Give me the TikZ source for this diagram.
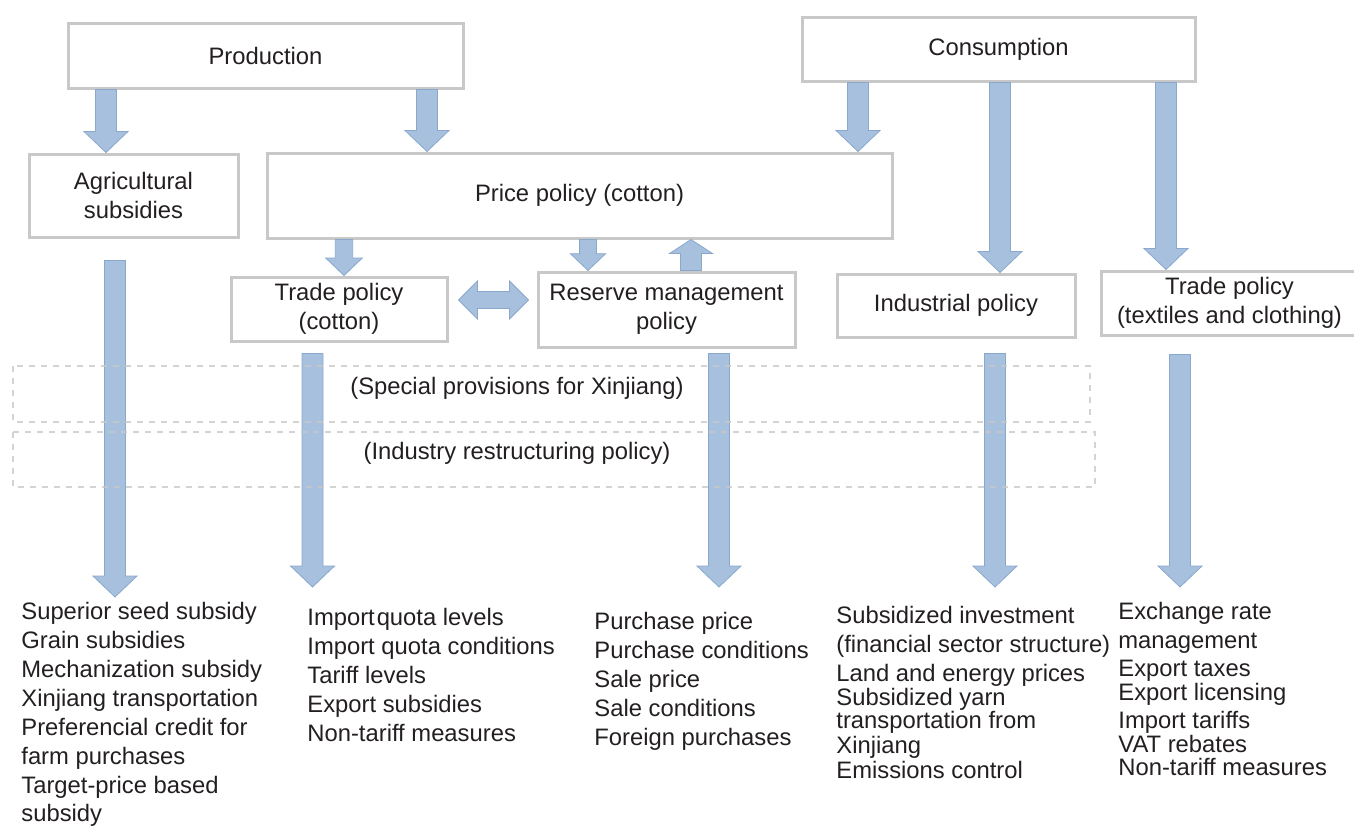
\documentclass[tikz,border=0pt]{standalone}
\usepackage{fontspec}
\setmainfont{Liberation Sans}
\usetikzlibrary{calc}

\definecolor{boxgray}{RGB}{200,200,200}
\definecolor{zonegray}{RGB}{200,200,200}
\definecolor{arrowblue}{RGB}{166,192,222}
\definecolor{arrowedge}{RGB}{138,168,205}
\definecolor{inktext}{RGB}{35,31,32}

\tikzset{
  box/.style={draw=boxgray,line width=1.5pt,fill=white,align=center,inner sep=2pt},
  zone/.style={draw=zonegray,line width=0.7pt,dash pattern=on 3pt off 3pt},
  fat/.style={fill=arrowblue,draw=arrowedge,line width=0.4pt},
  itemlist/.style={align=left,inner sep=0pt,anchor=north west},
}

% block arrow going down: #1 size factor, #2 start, #3 tip, #4 x (px)
\newcommand\blockdown[4][1]{%
  \draw[fat] let \p1=#2, \p2=#3, \p3=(#4,0) in
    (\x3-#1*5.25pt,\y1) -- (\x3-#1*5.25pt,\y2+#1*10.5pt) -- (\x3-#1*11pt,\y2+#1*10.5pt)
    -- (\x3,\y2) -- (\x3+#1*11pt,\y2+#1*10.5pt) -- (\x3+#1*5.25pt,\y2+#1*10.5pt)
    -- (\x3+#1*5.25pt,\y1) -- cycle;}
% block arrow going up
\newcommand\blockup[3]{%
  \draw[fat] let \p1=#1, \p2=#2, \p3=(#3,0) in
    (\x3-5.25pt,\y1) -- (\x3-5.25pt,\y2-7pt) -- (\x3-10.75pt,\y2-7pt)
    -- (\x3,\y2) -- (\x3+10.75pt,\y2-7pt) -- (\x3+5.25pt,\y2-7pt)
    -- (\x3+5.25pt,\y1) -- cycle;}

\begin{document}
\begin{tikzpicture}[x=0.5pt,y=-0.5pt,text=inktext,font=\fontsize{11.9}{14.45}\selectfont]
\useasboundingbox (0,0) rectangle (1354,825);

%top level
\node[box,minimum width=197.5pt,minimum height=32.5pt] (prod) at (265.5,55.5) {Production};
\node[box,minimum width=196.5pt,minimum height=32pt] (cons) at (998.5,49) {Consumption};

%second level
\node[box,minimum width=104.5pt,minimum height=41.5pt] (agri) at (133.5,195.5) {Agricultural\\subsidies};
\node[box,minimum width=312.5pt,minimum height=42.5pt] (price) at (579.5,195.5) {Price policy (cotton)};

%third level
\node[box,minimum width=108pt,minimum height=32pt] (tradec) at (339,309) {Trade policy\\(cotton)};
\node[box,minimum width=128.5pt,minimum height=37.5pt] (reserve) at (666.5,309.5) {Reserve management\\policy};
\node[box,minimum width=119pt,minimum height=31.5pt] (indus) at (956,305.5) {Industrial policy};
\node[box,minimum width=128.5pt,minimum height=32pt] (tradet) at (1229.5,303) {Trade policy\\(textiles and clothing)};

%instruments
\node[itemlist] (agrilist) at (21,602) {Superior seed subsidy\\Grain subsidies\\Mechanization subsidy\\Xinjiang transportation\\Preferencial credit for\\farm purchases\\Target-price based\\subsidy};
\node[itemlist] (tradeclist) at (307,608) {Import\hspace{0.08em}quota levels\\Import quota conditions\\Tariff levels\\Export subsidies\\Non-tariff measures};
\node[itemlist] (reservelist) at (594,612) {Purchase price\\Purchase conditions\\Sale price\\Sale conditions\\Foreign purchases};
\node[itemlist] (induslist) at (836,606) {Subsidized investment\\(financial sector structure)\\Land and energy prices\\[-2.45pt]Subsidized yarn\\[-2.95pt]transportation from\\[-1.95pt]Xinjiang\\[-1.95pt]Emissions control};
\node[itemlist] (tradetlist) at (1118,602) {Exchange rate\\management\\[-0.45pt]Export taxes\\[-2.45pt]Export licensing\\[-0.45pt]Import tariffs\\[-2.45pt]VAT rebates\\[-2.95pt]Non-tariff measures};

\coordinate (agritip) at (115,597);
\coordinate (tradectip) at (312.5,587);
\coordinate (reservetip) at (719,587);
\coordinate (industip) at (995,587);
\coordinate (tradettip) at (1180,587);

%arrows from the top
\blockdown{(prod.south)}{(agri.north)}{106}
\blockdown{(prod.south)}{(price.north)}{427}
\blockdown{(cons.south)}{(price.north)}{858}
\blockdown{(cons.south)}{(indus.north)}{1000}
\blockdown{(cons.south)}{(tradet.north)}{1166}

%price policy and its parts
\blockdown[0.83]{(price.south)}{(tradec.north)}{344}
\blockdown[0.8]{(price.south)}{(reserve.north)}{588}
\blockup{(reserve.north)}{(price.south)}{691}
\draw[fat] let \p1=($(tradec.east)+(10,0)$), \p2=($(reserve.west)+(-8,0)$), \p3=(0,300) in
  (\x1,\y3) -- (\x1+9.5pt,\y3+9.5pt) -- (\x1+9.5pt,\y3+4.25pt) -- (\x2-9.5pt,\y3+4.25pt)
  -- (\x2-9.5pt,\y3+9.5pt) -- (\x2,\y3) -- (\x2-9.5pt,\y3-9.5pt) -- (\x2-9.5pt,\y3-4.25pt)
  -- (\x1+9.5pt,\y3-4.25pt) -- (\x1+9.5pt,\y3-9.5pt) -- cycle;

%long arrows to the instruments
\blockdown{($(agri.south)+(0,22)$)}{(agritip)}{115}
\blockdown{($(tradec.south)+(0,11)$)}{(tradectip)}{312.5}
\blockdown{($(reserve.south)+(0,5)$)}{(reservetip)}{719}
\blockdown{($(indus.south)+(0,15)$)}{(industip)}{995}
\blockdown{($(tradet.south)+(0,18)$)}{(tradettip)}{1180}

%cross-cutting policies
\draw[zone,draw opacity=.8] (13,366) rectangle (1090,422);
\draw[zone,draw opacity=.8] (13,432) rectangle (1095,487);
\node (xinj) at (517,388) {(Special provisions for Xinjiang)};
\node (restr) at (517,453) {(Industry restructuring policy)};

\end{tikzpicture}
\end{document}
